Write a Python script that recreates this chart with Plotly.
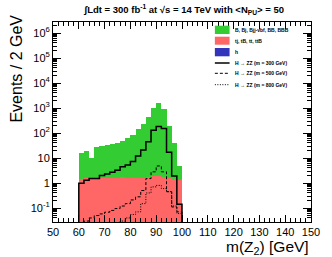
import plotly.graph_objects as go

# ---------------- data ----------------
bin_edges = [60, 62, 64, 66, 68, 70, 72, 74, 76, 78, 80, 82, 84, 86, 88, 90, 92, 94, 96, 98, 100]
# stacked components (events / 2 GeV)
bkg_h = [0.01, 0.01, 0.01, 0.01, 0.01, 0.01, 0.01, 0.01, 0.01, 0.01, 0.01, 0.01, 0.01, 0.01, 0.02, 0.02, 0.01, 0.01, 0.01, 0.01]  # h
bkg_top = [1.4, 1.6, 1.6, 1.6, 1.65, 1.6, 1.6, 1.65, 1.7, 1.6, 1.6, 1.65, 1.6, 1.7, 1.85, 1.9, 1.75, 1.6, 1.5, 1.3]      # tj, tB, tt, ttB
bkg_b = [14.6, 17.4, 8.4, 25.4, 27.3, 31.4, 34.4, 38.3, 48.3, 63.4, 81.4, 138.3, 218.4, 448.3, 1028.1, 1628.1, 888.2, 188.4, 39.5, 3.5]  # B, Bj, Bjj-vbf, BB, BBB
# signals (not stacked)
sig_300 = [0.97, 1.3, 1.5, 1.5, 2.0, 2.3, 2.7, 3.2, 4.5, 5.2, 7.2, 12, 21, 45, 130, 180, 150, 17, 1.9, 0.14]
sig_500 = [0.02, 0.03, 0.04, 0.05, 0.058, 0.068, 0.08, 0.095, 0.12, 0.15, 0.21, 0.28, 0.5, 1.5, 2.8, 4.8, 2.8, 0.45, 0.11, 0.07]
sig_800 = [0.005, 0.008, 0.01, 0.012, 0.015, 0.018, 0.022, 0.026, 0.03, 0.04, 0.055, 0.07, 0.15, 0.4, 0.7, 0.8, 0.6, 0.45, 0.12, 0.06]

x_ticks = [50, 60, 70, 80, 90, 100, 110, 120, 130, 140, 150]
y_ticks = [0.1, 1, 10, 100, 1000, 10000, 100000, 1000000]
y_ticktext = ["10<sup>-1</sup>", "1", "10", "10<sup>2</sup>", "10<sup>3</sup>",
              "10<sup>4</sup>", "10<sup>5</sup>", "10<sup>6</sup>"]

legend_labels = ["B, Bj, Bjj-vbf, BB, BBB", "tj, tB, tt, ttB", "h",
                 "H \u2192 ZZ (m = 300 GeV)", "H \u2192 ZZ (m = 500 GeV)", "H \u2192 ZZ (m = 800 GeV)"]

GREEN = "#33cc33"
RED = "#ff6666"
BLUE = "#3333bb"
FONT = "Liberation Sans, Arial, sans-serif"
DASH_500 = "3px,2px"
DASH_800 = "1px,1.5px"

centers = [(a + b) / 2 for a, b in zip(bin_edges[:-1], bin_edges[1:])]
widths = [b - a for a, b in zip(bin_edges[:-1], bin_edges[1:])]

fig = go.Figure()
for vals, col, name in [(bkg_h, BLUE, legend_labels[2]),
                        (bkg_top, RED, legend_labels[1]),
                        (bkg_b, GREEN, legend_labels[0])]:
    fig.add_trace(go.Bar(x=centers, y=vals, width=widths, marker=dict(color=col, line=dict(width=0)),
                         name=name, showlegend=False))

FLOOR = 1e-3


def step_xy(vals):
    xs = [bin_edges[0]] + bin_edges[:-1] + [bin_edges[-1], bin_edges[-1]]
    ys = [FLOOR] + list(vals) + [vals[-1], FLOOR]
    return xs, ys


for vals, dash, w, name in [(sig_300, "solid", 1.5, legend_labels[3]),
                            (sig_500, DASH_500, 1.0, legend_labels[4]),
                            (sig_800, DASH_800, 1.0, legend_labels[5])]:
    xs, ys = step_xy(vals)
    fig.add_trace(go.Scatter(x=xs, y=ys, mode="lines", line=dict(color="black", width=w, dash=dash, shape="hv"),
                             name=name, showlegend=False, cliponaxis=True))

minor_y = [m * 10 ** e for e in range(-2, 7) for m in range(2, 10)]

fig.update_layout(
    width=332, height=257,
    margin=dict(l=53, r=16, t=22, b=35),
    paper_bgcolor="white", plot_bgcolor="white",
    barmode="stack", bargap=0,
    font=dict(family=FONT, color="black", size=11),
    showlegend=False,
    title=dict(text="\u222bLdt = 300 fb<sup>-1</sup> at \u221as = 14 TeV with &lt;N<sub>PU</sub>&gt; = 50",
               x=0.555, xanchor="center", y=0.963, yanchor="middle",
               font=dict(size=9.5, family=FONT, weight="bold")),
    xaxis=dict(range=[50, 150], tickmode="array", tickvals=x_ticks, ticks="inside", ticklen=7,
               tickcolor="black", showline=True, linecolor="black", linewidth=1, mirror="allticks",
               showgrid=False, zeroline=False, tickfont=dict(size=11),
               minor=dict(ticks="inside", ticklen=4, dtick=2, tick0=50, tickcolor="black", showgrid=False)),
    yaxis=dict(type="log", range=[-1.56, 6.44], tickmode="array", tickvals=y_ticks, ticktext=y_ticktext,
               ticks="inside", ticklen=8, tickcolor="black", showline=True, linecolor="black", linewidth=1,
               mirror="allticks", showgrid=False, zeroline=False, tickfont=dict(size=11),
               minor=dict(ticks="inside", ticklen=4, tickmode="array", tickvals=minor_y, tickcolor="black",
                          showgrid=False)),
)

# axis titles
fig.add_annotation(text="m(Z<sub>2</sub>) [GeV]", xref="paper", yref="paper", x=1.0, y=-0.13,
                   xanchor="right", yanchor="middle", showarrow=False, font=dict(size=15.5, family=FONT))
fig.add_annotation(text="Events / 2 GeV", xref="paper", yref="paper", x=-0.145, y=0.765,
                   xanchor="center", yanchor="middle", textangle=-90, showarrow=False,
                   font=dict(size=16, family=FONT))


# manual compact legend (paper coordinates)
def px2x(px):
    return (px - 53) / 263


def py2y(py):
    return (222 - py) / 200


x0, x1, xt = px2x(218), px2x(233), px2x(236.5)
boxes = [(GREEN, 25.7, 34), (RED, 36.7, 44.7), (BLUE, 48, 56.3)]
for (col, ya, yb), lab in zip(boxes, legend_labels[:3]):
    fig.add_shape(type="rect", xref="paper", yref="paper", x0=x0, x1=x1, y0=py2y(yb), y1=py2y(ya),
                  fillcolor=col, line=dict(width=0))
    fig.add_annotation(text=lab, xref="paper", yref="paper", x=xt, y=py2y((ya + yb) / 2),
                       xanchor="left", yanchor="middle", showarrow=False,
                       font=dict(size=5, family=FONT, weight="bold"))
for (dash, w, yl), lab in zip([("solid", 1.5, 63), (DASH_500, 1.0, 73.3), (DASH_800, 1.0, 84.7)], legend_labels[3:]):
    fig.add_shape(type="line", xref="paper", yref="paper", x0=x0, x1=x1, y0=py2y(yl), y1=py2y(yl),
                  line=dict(color="black", width=w, dash=dash))
    fig.add_annotation(text=lab, xref="paper", yref="paper", x=xt, y=py2y(yl),
                       xanchor="left", yanchor="middle", showarrow=False,
                       font=dict(size=5, family=FONT, weight="bold"))

fig.write_html("out.html", config={"displayModeBar": False},
               post_script="document.body.style.margin='0';document.body.style.overflow='hidden';")
